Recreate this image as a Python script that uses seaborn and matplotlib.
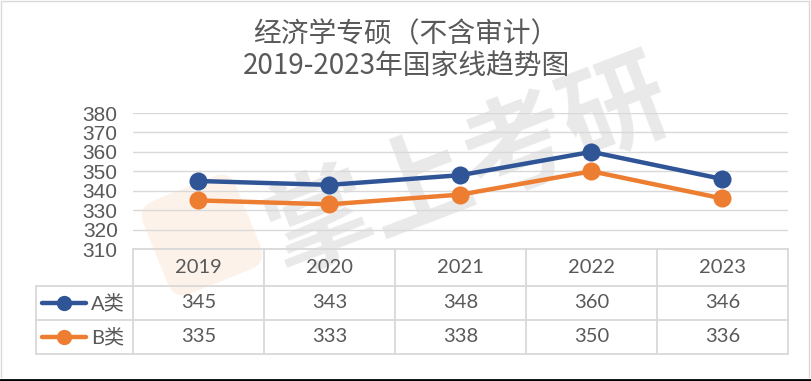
import matplotlib
matplotlib.use("Agg")
import matplotlib.pyplot as plt
import seaborn as sns
import pandas as pd
from matplotlib.patches import FancyBboxPatch
import matplotlib.transforms as mtrans

# -------------------------------
# Dados
# -------------------------------
anos = ["2019", "2020", "2021", "2022", "2023"]
linha_a = [345, 343, 348, 360, 346]
linha_b = [335, 333, 338, 350, 336]
series = ["A类", "B类"]
titulo = "经济学专硕（不含审计）\n2019-2023年国家线趋势图"
y_ticks = [310, 320, 330, 340, 350, 360, 370, 380]

df = pd.DataFrame({"ano": anos * 2,
                   "valor": linha_a + linha_b,
                   "serie": [series[0]] * 5 + [series[1]] * 5})

cores = {"A类": "#2F5597", "B类": "#ED7D31"}
cinza = "#595959"
grade = "#d9d9d9"

sns.set_theme(style="white")
plt.rcParams["font.family"] = ["Noto Sans CJK SC", "DejaVu Sans"]

W, H = 812, 381
fig = plt.figure(figsize=(W / 100, H / 100), dpi=100)

def fx(px):
    return px / W

def fy(py):
    return 1 - py / H

# -------------------------------
# Fundo: marca d'agua e moldura
# -------------------------------
ax_bg = fig.add_axes([0, 0, 1, 1], zorder=-1)
ax_bg.set_xlim(0, W)
ax_bg.set_ylim(H, 0)
ax_bg.axis("off")

logo = FancyBboxPatch((152, 185), 100, 100, boxstyle="round,pad=0,rounding_size=18",
                      facecolor="#fdf2ea", edgecolor="none")
logo.set_transform(mtrans.Affine2D().rotate_deg_around(202, 235, -22) + ax_bg.transData)
ax_bg.add_patch(logo)
ax_bg.text(468, 168, "掌上考研", fontsize=76, fontweight="bold",
           color="#e9e9e9", rotation=21, ha="center", va="center",
           family=["Noto Sans CJK SC"])

ax_bg.plot([1, W - 3, W - 3], [1, 1, H - 4], color=grade, lw=1)
ax_bg.plot([1, 1], [1, H - 4], color=grade, lw=1)
ax_bg.plot([0, W], [H - 1, H - 1], color="black", lw=2)

# -------------------------------
# Grafico de linhas
# -------------------------------
ax = fig.add_axes([fx(133), fy(249), fx(788) - fx(133), fy(113) - fy(249)])
ax.patch.set_alpha(0)
for v in y_ticks:
    ax.axhline(v, color=grade, lw=1, zorder=0)
sns.lineplot(data=df, x="ano", y="valor", hue="serie", palette=cores,
             marker="o", markersize=13, linewidth=3.2, markeredgewidth=0,
             legend=False, ax=ax, sort=False)
ax.set_xlim(-0.5, 4.5)
ax.set_ylim(310, 380)
ax.set_yticks(y_ticks)
ax.set_yticklabels([str(v) for v in y_ticks], family=["Liberation Sans"],
                   fontsize=15, color=cinza)
ax.tick_params(axis="y", length=0, pad=11)
ax.set_xticks([])
ax.set_xlabel("")
ax.set_ylabel("")
for s in ax.spines.values():
    s.set_visible(False)

# -------------------------------
# Tabela de dados
# -------------------------------
esq = 36
ax_t = fig.add_axes([fx(esq), fy(354), fx(788) - fx(esq), fy(249) - fy(354)])
ax_t.set_xlim(-0.5 - (133 - esq) / 131, 4.5)
ax_t.set_ylim(105, 0)
ax_t.axis("off")
ax_t.patch.set_alpha(0)

x_lab = -0.5 - (133 - esq) / 131
lin = dict(color=grade, lw=1.3, clip_on=False)
ax_t.plot([-0.5, 4.5], [0, 0], **lin)
for yy in [37, 71, 105]:
    ax_t.plot([x_lab, 4.5], [yy, yy], **lin)
for i in range(6):
    ax_t.plot([i - 0.5, i - 0.5], [0, 105], **lin)
ax_t.plot([x_lab, x_lab], [37, 105], **lin)

fonte_num = ["Lato", "Noto Sans CJK SC"]
for i, ano in enumerate(anos):
    ax_t.text(i, 18.5, ano, ha="center", va="center", fontsize=14.5,
              color=cinza, family=fonte_num)
    ax_t.text(i, 54, str(linha_a[i]), ha="center", va="center", fontsize=14.5,
              color=cinza, family=fonte_num)
    ax_t.text(i, 88, str(linha_b[i]), ha="center", va="center", fontsize=14.5,
              color=cinza, family=fonte_num)

for nome, yy in zip(series, [54, 88]):
    x0 = -0.5 - (133 - 42) / 131
    x1 = -0.5 - (133 - 86) / 131
    ax_t.plot([x0, x1], [yy, yy], color=cores[nome], lw=3.2,
              solid_capstyle="round", clip_on=False)
    ax_t.plot([(x0 + x1) / 2], [yy], "o", color=cores[nome], ms=11,
              mew=0, clip_on=False)
    ax_t.text(-0.5 - (133 - 91) / 131, yy, nome, ha="left", va="center",
              fontsize=14.5, color=cinza, family=fonte_num)

# -------------------------------
# Titulo
# -------------------------------
fig.text(0.5, fy(50), titulo, ha="center", va="center", fontsize=20,
         color=cinza, linespacing=1.1)

fig.savefig("out.png", dpi=100)
